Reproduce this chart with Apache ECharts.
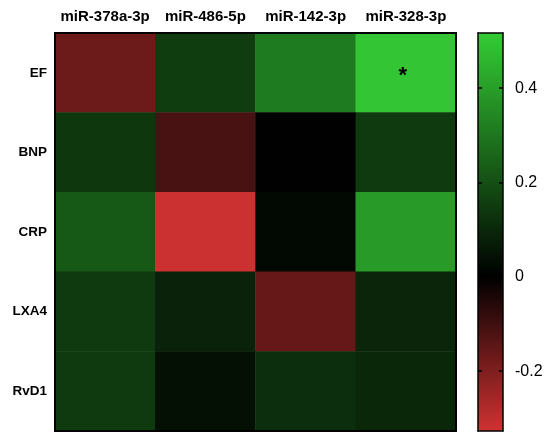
<!DOCTYPE html>
<html>
<head>
<meta charset="utf-8">
<script src="https://cdn.jsdelivr.net/npm/echarts@6/dist/echarts.min.js"></script>
<style>html,body{margin:0;padding:0;background:#fff;}#c{width:550px;height:442px;}</style>
</head>
<body>
<div id="c"></div>
<script>
// ---- data ----
var columns = ['miR-378a-3p', 'miR-486-5p', 'miR-142-3p', 'miR-328-3p'];
var rows = ['EF', 'BNP', 'CRP', 'LXA4', 'RvD1'];
var rowEF   = [-0.17, 0.155, 0.31, 0.50];
var rowBNP  = [0.14, -0.115, 0.0, 0.145];
var rowCRP  = [0.225, -0.32, 0.02, 0.39];
var rowLXA4 = [0.145, 0.085, -0.16, 0.095];
var rowRvD1 = [0.145, 0.04, 0.115, 0.10];
var significant = [['EF', 'miR-328-3p']];
var colorMin = -0.327, colorMax = 0.517;
var colorTicks = [0.4, 0.2, 0, -0.2];

var rowValues = [rowEF, rowBNP, rowCRP, rowLXA4, rowRvD1];
var data = [];
rows.forEach(function (r, ri) {
  columns.forEach(function (c, ci) {
    var sig = significant.some(function (s) { return s[0] === r && s[1] === c; });
    data.push({ value: [ci, ri, rowValues[ri][ci]], label: { show: sig } });
  });
});

// colour ramp: red at min, black at 0, green at max
var lowC = [208, 50, 50], zeroC = [0, 0, 0], highC = [52, 204, 52];
var ramp = [];
var N = 120;
for (var i = 0; i <= N; i++) {
  var v = colorMin + (colorMax - colorMin) * i / N;
  var col;
  if (v < 0) { var t = v / colorMin; col = zeroC.map(function (z, k) { return Math.round(z + (lowC[k] - z) * t); }); }
  else { var t2 = v / colorMax; col = zeroC.map(function (z, k) { return Math.round(z + (highC[k] - z) * t2); }); }
  ramp.push('rgb(' + col.join(',') + ')');
}

var chart = echarts.init(document.getElementById('c'), null, { renderer: 'canvas' });
var FONT = 'Liberation Sans, Arial, sans-serif';
var lineBlack = { show: true, lineStyle: { color: '#000', width: 2 } };
var hmL = 55, hmT = 33, hmW = 401, hmH = 398;
var cbL = 478, cbW = 25;

chart.setOption({
  animation: false,
  backgroundColor: '#fff',
  grid: [
    { left: hmL, top: hmT, width: hmW, height: hmH },
    { left: cbL, top: hmT, width: cbW, height: hmH }
  ],
  xAxis: [
    { type: 'category', data: columns, gridIndex: 0, position: 'top', z: 10,
      axisLine: lineBlack, axisTick: { show: false }, splitLine: { show: false },
      axisLabel: { interval: 0, color: '#000', fontWeight: 'bold', fontSize: 15, fontFamily: FONT, margin: 9 } },
    { type: 'category', data: columns, gridIndex: 0, position: 'bottom', z: 10,
      axisLine: lineBlack, axisTick: { show: false }, axisLabel: { show: false } },
    { type: 'value', gridIndex: 1, position: 'top', z: 10, min: 0, max: 1,
      axisLine: { show: true, onZero: false, lineStyle: { color: '#000', width: 1.5 } }, axisTick: { show: false }, axisLabel: { show: false }, splitLine: { show: false } },
    { type: 'value', gridIndex: 1, position: 'bottom', z: 10, min: 0, max: 1,
      axisLine: { show: true, onZero: false, lineStyle: { color: '#000', width: 1.5 } }, axisTick: { show: false }, axisLabel: { show: false }, splitLine: { show: false } }
  ],
  yAxis: [
    { type: 'category', data: rows, gridIndex: 0, inverse: true, position: 'left', z: 10,
      axisLine: lineBlack, axisTick: { show: false }, splitLine: { show: false },
      axisLabel: { interval: 0, color: '#000', fontWeight: 'bold', fontSize: 13.5, fontFamily: FONT, margin: 8 } },
    { type: 'category', data: rows, gridIndex: 0, inverse: true, position: 'right', z: 10,
      axisLine: lineBlack, axisTick: { show: false }, axisLabel: { show: false } },
    { type: 'value', gridIndex: 1, position: 'left', z: 10, min: colorMin, max: colorMax,
      axisLine: { show: true, onZero: false, lineStyle: { color: '#000', width: 1.5 } },
      axisTick: { show: true, inside: true, length: 4, lineStyle: { color: '#000', width: 1.5 }, customValues: colorTicks },
      axisLabel: { show: false, customValues: colorTicks }, splitLine: { show: false } },
    { type: 'value', gridIndex: 1, position: 'right', z: 10, min: colorMin, max: colorMax,
      axisLine: { show: true, onZero: false, lineStyle: { color: '#000', width: 1.5 } },
      axisTick: { show: true, inside: true, length: 4, lineStyle: { color: '#000', width: 1.5 }, customValues: colorTicks },
      axisLabel: { show: true, color: '#000', fontSize: 16, fontFamily: FONT, margin: 12, customValues: colorTicks,
        formatter: function (v) { return String(Math.round(v * 10) / 10); } },
      splitLine: { show: false } }
  ],
  visualMap: {
    type: 'continuous', min: colorMin, max: colorMax, seriesIndex: 0,
    left: cbL, top: hmT, itemWidth: cbW, itemHeight: hmH, padding: 0,
    calculable: false, text: null, showLabel: false, realtime: false,
    inRange: { color: ramp }
  },
  series: [{
    type: 'heatmap', xAxisIndex: 0, yAxisIndex: 0, data: data,
    itemStyle: { borderWidth: 0 },
    emphasis: { disabled: true },
    label: { show: false, formatter: '*', color: '#000', fontSize: 22, fontWeight: 'bold', fontFamily: FONT, offset: [-3, 3] }
  }]
});
</script>
</body>
</html>
